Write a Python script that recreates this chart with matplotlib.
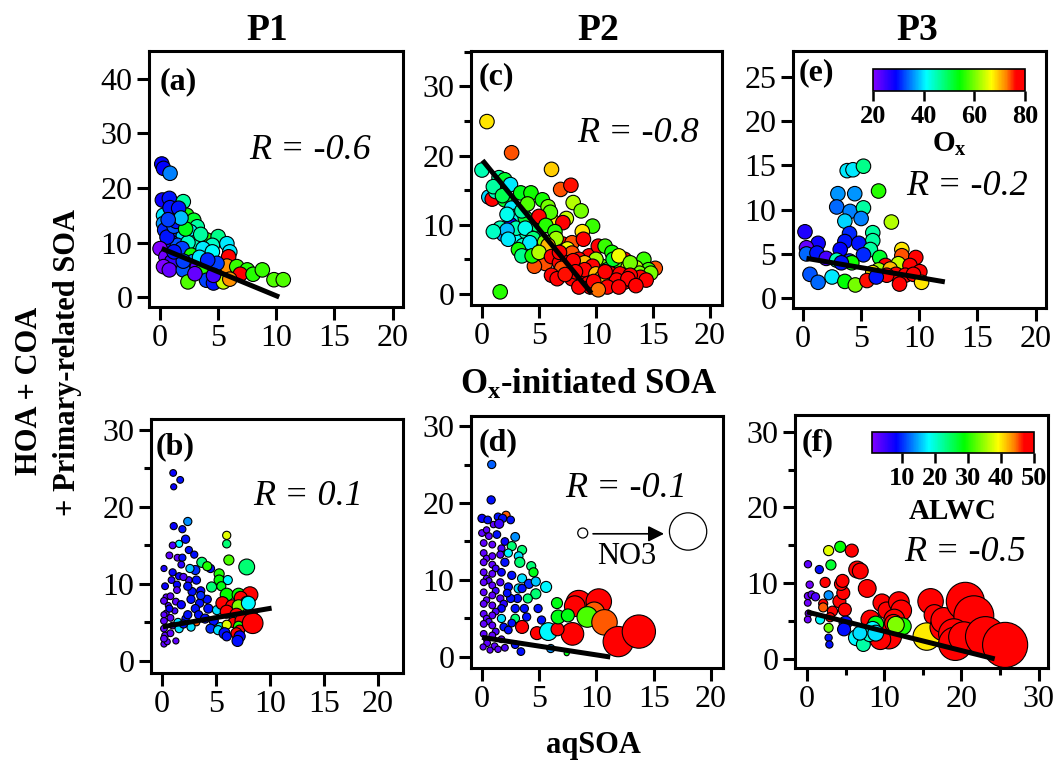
import matplotlib
matplotlib.use("Agg")
import matplotlib.pyplot as plt
from matplotlib.colors import LinearSegmentedColormap, Normalize
from matplotlib.cm import ScalarMappable
from matplotlib.ticker import MultipleLocator

plt.rcParams['font.family'] = 'Liberation Serif'
plt.rcParams['mathtext.fontset'] = 'custom'
plt.rcParams['mathtext.rm'] = 'Liberation Serif'
plt.rcParams['mathtext.bf'] = 'Liberation Serif:bold'
plt.rcParams['mathtext.it'] = 'Liberation Serif:italic'

# ---------------- data ----------------
# P1, Ox-initiated SOA vs primary: (x, y, Ox)
a_pts = [
    (0.15, 24.4, 29), (0.3, 23.6, 29), (0.86, 22.7, 35), (0.2, 17.8, 28), (0.8, 18.1, 30),
    (2.0, 17.5, 46), (0.3, 15.0, 40), (1.3, 15.6, 31), (2.3, 15.0, 55), (0.3, 13.5, 36),
    (0.4, 12.3, 31), (1.6, 12.7, 54), (2.9, 14.1, 52), (3.2, 12.9, 46), (1.3, 10.5, 31),
    (2.0, 11.2, 39), (2.6, 12.0, 41), (4.0, 10.5, 56), (5.0, 11.1, 47), (5.75, 9.8, 40),
    (1.0, 10.0, 30), (1.5, 9.5, 33), (2.5, 9.0, 37), (3.0, 10.0, 45), (0.6, 11.0, 30),
    (1.2, 13.0, 33), (2.4, 10.0, 44), (4.5, 9.5, 44), (1.4, 13.9, 30), (0.86, 16.4, 30),
    (1.6, 16.3, 30), (2.2, 12.5, 53), (3.5, 11.5, 46), (1.8, 14.5, 38), (0.7, 14.2, 32),
    (0.0, 8.9, 20), (0.5, 7.4, 21), (1.9, 8.9, 32), (2.7, 7.7, 55), (3.7, 8.9, 40),
    (4.5, 8.3, 41), (6.0, 8.3, 40), (3.5, 6.0, 34), (4.2, 5.5, 31), (5.2, 4.5, 33),
    (2.8, 6.5, 36), (1.8, 6.0, 28), (1.0, 6.5, 25), (5.5, 6.0, 38), (6.3, 4.0, 55),
    (5.9, 7.4, 80), (5.75, 5.7, 72), (0.3, 5.6, 20), (0.8, 5.0, 22), (2.0, 5.0, 33),
    (3.2, 5.5, 23), (3.7, 5.0, 56), (4.9, 6.2, 32), (6.6, 5.6, 57), (7.5, 5.0, 56),
    (6.9, 4.2, 80), (8.0, 4.2, 56), (8.8, 5.0, 57), (9.8, 3.2, 58), (10.6, 3.2, 58),
    (2.4, 2.8, 58), (4.0, 3.1, 32), (4.6, 2.6, 30), (5.45, 2.8, 64), (6.0, 3.3, 72),
    (3.0, 4.3, 22), (4.6, 4.0, 24), (2.0, 6.6, 32), (3.4, 7.3, 40), (4.1, 6.8, 31),
    (1.2, 8.3, 30),
]
# P2: (x, y, Ox)
c_pts = [
    (0.44, 24.9, 68), (2.6, 20.4, 74), (6.1, 18.0, 69), (6.9, 15.1, 74), (7.8, 15.7, 76),
    (0.0, 17.9, 45), (0.6, 14.0, 39), (0.9, 13.7, 80), (1.5, 16.8, 46), (2.0, 16.5, 52),
    (2.5, 15.8, 40), (3.4, 14.6, 53), (4.3, 14.6, 55), (5.3, 13.6, 55), (5.8, 12.6, 60),
    (2.0, 13.6, 52), (2.6, 12.4, 40), (2.9, 11.2, 42), (2.5, 10.0, 28), (1.6, 9.5, 45),
    (1.9, 8.6, 36), (3.0, 8.4, 41), (3.9, 8.9, 45), (5.0, 8.4, 41), (4.5, 6.9, 40),
    (2.2, 11.5, 42), (1.2, 14.8, 45), (3.0, 9.5, 45), (3.8, 11.0, 52), (4.8, 10.0, 48),
    (1.0, 15.5, 46), (1.8, 14.2, 50), (3.5, 12.0, 46), (4.0, 13.0, 58), (5.5, 11.0, 62),
    (6.2, 10.5, 66), (6.0, 11.8, 58), (3.8, 9.5, 42), (4.5, 8.0, 48), (2.2, 9.2, 38),
    (3.6, 7.0, 44), (1.0, 9.0, 44),
    (5.0, 11.2, 80), (7.4, 10.9, 64), (8.0, 13.2, 63), (8.7, 12.0, 60), (9.7, 9.8, 57),
    (8.8, 9.0, 68), (7.1, 10.3, 80), (5.6, 9.9, 56), (6.4, 9.0, 56), (6.1, 6.9, 74),
    (7.1, 7.2, 80), (7.9, 7.4, 74), (8.9, 7.9, 80), (5.55, 4.4, 74), (4.6, 4.0, 74),
    (6.5, 8.0, 62), (7.5, 6.5, 66), (5.5, 7.5, 60), (5.8, 7.0, 70),
    (2.3, 7.9, 40), (4.2, 7.4, 40), (3.2, 6.4, 55), (3.5, 5.5, 47), (4.4, 5.5, 55),
    (5.0, 6.0, 63),
    (6.1, 5.4, 80), (7.0, 5.5, 80), (7.9, 5.9, 74), (9.4, 5.5, 80), (10.2, 6.9, 80),
    (10.8, 6.9, 57), (11.4, 6.0, 55), (12.5, 5.0, 80), (14.2, 5.0, 57), (15.2, 3.7, 74),
    (14.6, 3.5, 57), (13.5, 3.8, 63), (12.1, 4.0, 57), (10.5, 4.0, 60), (11.0, 3.5, 48),
    (12.8, 3.8, 65), (8.5, 5.0, 78), (6.8, 4.5, 78), (13.8, 3.0, 60), (10.0, 5.0, 62),
    (11.5, 5.0, 52), (12.0, 5.5, 66), (13.0, 4.5, 60), (9.0, 4.5, 70), (14.8, 3.0, 60),
    (6.8, 6.0, 80), (7.5, 4.5, 80), (8.0, 4.8, 80),
    (7.0, 3.7, 74), (6.1, 2.7, 80), (7.9, 2.2, 80), (8.8, 2.7, 80), (9.7, 4.0, 80),
    (9.0, 3.5, 80), (8.2, 3.2, 80), (10.0, 2.9, 70), (10.8, 1.7, 80), (11.6, 1.7, 80),
    (12.5, 1.7, 80), (13.3, 1.7, 80), (13.9, 2.4, 80), (11.3, 2.9, 80), (12.1, 2.9, 80),
    (13.0, 2.7, 80), (6.6, 2.2, 80), (9.3, 1.5, 80), (9.5, 1.0, 77), (11.8, 2.0, 80),
    (14.4, 2.0, 80), (10.5, 2.3, 70), (10.8, 3.2, 80), (12.8, 2.2, 80), (9.8, 1.8, 80),
    (8.5, 1.0, 80), (7.3, 2.8, 76), (11.0, 1.0, 80), (12.0, 1.0, 80), (13.5, 1.2, 80),
    (10.2, 0.6, 73), (1.6, 0.3, 56),
]
# P3: (x, y, Ox)
e_pts = [
    (3.8, 14.4, 40), (4.3, 14.5, 40), (5.2, 14.9, 47), (6.5, 12.1, 56), (3.0, 11.8, 36),
    (4.45, 11.8, 36), (2.9, 10.3, 34), (4.05, 9.8, 35), (5.2, 10.2, 46), (5.0, 9.0, 35),
    (3.6, 8.7, 39), (7.6, 8.6, 63), (0.17, 7.5, 27), (4.0, 7.3, 31), (6.0, 7.4, 46),
    (6.0, 6.5, 46), (1.3, 6.2, 28), (0.3, 5.7, 22), (3.6, 6.4, 30), (4.8, 6.2, 30),
    (3.2, 5.5, 29), (5.8, 5.5, 46), (0.3, 5.0, 34), (1.2, 5.1, 30), (5.2, 4.9, 31),
    (6.6, 4.6, 52), (2.0, 4.5, 24), (2.9, 4.3, 45), (4.0, 4.2, 31), (4.2, 4.0, 55),
    (3.3, 4.0, 30), (8.5, 5.5, 68), (8.5, 4.8, 74), (9.7, 4.6, 80), (7.1, 3.7, 80),
    (8.2, 3.9, 64), (9.2, 3.7, 80), (6.5, 3.2, 62), (7.5, 3.3, 70), (10.05, 3.0, 80),
    (8.0, 2.7, 80), (8.8, 2.6, 80), (9.5, 2.7, 80), (6.0, 2.9, 68), (7.2, 2.6, 80),
    (8.3, 1.6, 80), (10.2, 1.8, 68), (0.6, 2.7, 33), (1.3, 1.8, 34), (2.5, 2.4, 40),
    (3.6, 1.9, 54), (4.5, 1.5, 60), (5.5, 2.0, 76), (6.3, 2.4, 30),
]
# P1, aqSOA vs primary: (x, y, ALWC, NO3)
b_pts = [
    (1.05, 24.4, 8, 1.5), (1.7, 23.5, 9, 1.5), (1.1, 22.6, 8, 1.0), (1.1, 17.5, 8, 1.8),
    (1.9, 17.1, 9, 1.8), (2.4, 18.1, 14, 2.6), (2.2, 15.8, 9, 2.6), (1.6, 15.2, 18, 1.8),
    (1.0, 15.0, 4, 1.5), (2.5, 14.4, 9, 1.8), (0.7, 13.7, 3, 1.5), (1.45, 13.4, 3, 1.5),
    (1.9, 13.4, 9, 1.8), (0.2, 12.0, 7, 1.0), (3.0, 13.8, 9, 1.8), (1.8, 12.5, 6, 1.5),
    (0.9, 10.5, 6, 1.5), (1.6, 11.0, 8, 1.8), (2.5, 10.5, 5, 1.5), (4.5, 12.0, 9, 2.6),
    (0.2, 2.2, 3, 1.0), (0.5, 2.5, 3, 1.0), (1.3, 2.6, 3, 1.0), (0.4, 6.2, 3, 1.0),
    (0.6, 7.2, 4, 1.0), (1.2, 6.5, 5, 1.0), (0.4, 8.3, 3, 1.0), (0.2, 6.0, 3, 1.0),
    (2.8, 9.0, 9, 2.6), (3.5, 7.5, 9, 2.6), (4.2, 8.0, 9, 2.6), (2.2, 5.5, 9, 2.0),
    (6.0, 16.3, 38, 2.6), (6.0, 15.2, 24, 2.6), (6.2, 13.1, 32, 4.1), (3.7, 12.8, 24, 4.1),
    (4.2, 12.3, 30, 3.3), (3.1, 11.8, 10, 3.3), (2.6, 12.0, 16, 2.6), (5.3, 11.3, 30, 4.1),
    (1.0, 11.5, 8, 1.8), (2.0, 10.9, 4, 1.8), (3.2, 10.5, 9, 2.6), (5.3, 10.5, 29, 4.1),
    (6.1, 10.5, 18, 3.3), (4.6, 9.6, 24, 4.1), (3.6, 9.1, 8, 2.6), (5.5, 9.7, 28, 3.3),
    (0.3, 9.7, 8, 1.5), (1.4, 9.9, 8, 1.8), (2.4, 9.7, 9, 2.6), (3.6, 8.5, 10, 2.6),
    (2.7, 8.0, 9, 2.6), (1.3, 7.7, 3, 1.5), (0.2, 7.8, 3, 1.5), (0.7, 6.8, 8, 1.8),
    (1.8, 7.3, 8, 2.6), (3.1, 6.8, 9, 2.6), (4.3, 6.8, 9, 3.3), (3.4, 6.0, 9, 2.6),
    (5.1, 6.6, 17, 3.3), (2.4, 6.0, 9, 2.6), (0.8, 5.6, 3, 1.5), (0.2, 5.2, 3, 1.5),
    (1.5, 5.0, 17, 2.6), (3.2, 5.0, 45, 1.5), (4.0, 5.5, 9, 3.3), (4.8, 5.2, 9, 3.3),
    (4.5, 4.2, 10, 3.3), (5.4, 4.4, 17, 3.3), (5.2, 4.0, 17, 3.3), (2.7, 4.4, 17, 2.6),
    (0.2, 4.2, 3, 1.5), (1.0, 4.6, 3, 1.5), (0.3, 3.3, 3, 1.5), (0.8, 3.6, 3, 1.5),
    (0.2, 2.9, 3, 1.5), (1.6, 4.2, 17, 2.6), (2.0, 4.8, 9, 2.6), (0.8, 8.4, 3, 1.5),
    (1.4, 9.2, 3, 1.5), (7.85, 12.2, 24, 8.5), (6.0, 8.6, 29, 6.3), (7.1, 8.6, 29, 6.3),
    (8.15, 8.6, 50, 8.5), (7.3, 8.2, 50, 6.3), (5.6, 7.5, 50, 6.3), (6.5, 7.1, 50, 6.3),
    (7.9, 7.5, 18, 7.0), (7.1, 7.1, 34, 6.3), (6.0, 6.4, 50, 6.3), (6.9, 6.0, 50, 6.3),
    (8.2, 5.6, 50, 8.5), (8.1, 5.4, 18, 7.0), (6.7, 5.4, 17, 4.1), (6.6, 5.0, 50, 4.1),
    (7.5, 5.2, 50, 8.5), (7.1, 4.5, 30, 4.1), (6.0, 4.7, 38, 3.3), (7.2, 4.0, 50, 4.1),
    (8.4, 4.9, 50, 12.2), (8.0, 7.5, 18, 7.0), (6.9, 3.6, 50, 4.8), (5.8, 3.6, 9, 4.8),
    (7.2, 3.2, 8, 4.8), (7.0, 2.6, 9, 4.8), (6.0, 3.2, 9, 3.3),
]
# P2: (x, y, ALWC, NO3)
d_pts = [
    (0.85, 25.0, 12, 2.6), (0.8, 20.4, 9, 2.6), (0.0, 18.0, 8, 2.6), (0.5, 17.8, 9, 2.2),
    (1.4, 18.2, 9, 2.2), (2.1, 18.4, 45, 2.6), (1.8, 18.0, 9, 2.6), (2.5, 17.8, 9, 2.2),
    (1.0, 17.2, 3, 1.2), (1.5, 17.3, 5, 3.3), (0.0, 16.1, 3, 1.5), (0.4, 16.5, 3, 1.2),
    (0.6, 15.7, 3, 1.5), (1.3, 15.9, 9, 2.2), (2.9, 15.6, 14, 3.0), (0.15, 14.8, 3, 1.5),
    (0.9, 14.6, 3, 1.5), (1.7, 14.1, 4, 1.8), (2.0, 15.0, 8, 2.2), (2.6, 14.4, 24, 3.3),
    (3.5, 13.9, 24, 3.3), (0.15, 13.5, 3, 1.5), (0.4, 12.8, 3, 1.2), (0.9, 13.1, 3, 1.5),
    (1.6, 13.3, 4, 1.8), (2.3, 13.5, 18, 2.6), (3.2, 13.1, 17, 3.0), (0.15, 12.3, 3, 1.5),
    (0.9, 12.0, 3, 1.5), (1.2, 11.5, 5, 1.5), (2.0, 12.3, 9, 2.6), (3.3, 12.3, 24, 4.1),
    (4.3, 11.8, 24, 3.3), (4.5, 11.0, 28, 3.3), (0.15, 11.0, 3, 1.5), (0.9, 10.8, 3, 1.5),
    (1.7, 11.0, 8, 2.2), (2.6, 10.6, 9, 2.6), (3.5, 10.2, 17, 3.3), (4.1, 9.5, 10, 3.3),
    (4.7, 9.8, 16, 3.3), (0.4, 10.2, 3, 1.2), (0.6, 9.9, 4, 1.2), (0.15, 9.7, 3, 1.5),
    (0.9, 9.3, 3, 1.5), (1.6, 9.7, 4, 1.8), (2.3, 9.1, 9, 2.6), (3.2, 8.9, 17, 3.3),
    (3.5, 8.9, 9, 2.6), (5.6, 9.1, 18, 4.8), (4.7, 8.2, 24, 4.1), (4.0, 7.6, 24, 3.3),
    (3.1, 7.6, 9, 2.6), (1.2, 8.6, 5, 1.5), (0.15, 8.4, 3, 1.5), (0.9, 8.0, 3, 1.5),
    (1.6, 7.6, 4, 1.8), (2.5, 7.6, 9, 2.6), (2.2, 8.3, 9, 2.2), (0.4, 7.4, 3, 1.2),
    (0.15, 6.9, 3, 1.5), (0.9, 6.7, 3, 1.5), (1.9, 6.9, 6, 2.0), (1.7, 6.3, 8, 2.2),
    (2.9, 6.3, 9, 2.6), (3.7, 6.3, 9, 2.6), (4.9, 6.3, 9, 2.6), (1.2, 5.9, 4, 1.5),
    (0.15, 5.6, 3, 1.5), (0.9, 5.4, 3, 1.5), (0.4, 5.0, 3, 1.2), (1.7, 5.0, 17, 2.6),
    (2.9, 5.0, 24, 3.0), (3.9, 5.2, 9, 2.6), (5.2, 4.8, 9, 2.6), (0.6, 4.6, 4, 1.2),
    (0.15, 4.3, 3, 1.5), (0.9, 4.1, 3, 1.5), (1.9, 3.9, 9, 2.2), (2.6, 4.4, 9, 2.2),
    (2.3, 3.5, 9, 2.2), (1.2, 3.3, 4, 1.5), (0.15, 3.0, 3, 1.5), (0.9, 2.8, 3, 1.5),
    (0.4, 2.3, 3, 1.2), (1.7, 2.3, 3, 1.5), (0.45, 1.8, 3, 1.5), (1.1, 1.4, 3, 1.5),
    (0.1, 1.3, 3, 1.0), (1.4, 1.0, 3, 1.2), (0.7, 0.9, 3, 1.0), (2.0, 1.2, 4, 1.5),
    (2.9, 1.6, 9, 2.2), (3.4, 0.7, 9, 2.2), (6.0, 1.1, 14, 2.6), (7.4, 0.5, 28, 0.3),
    (6.55, 7.0, 28, 4.8), (3.5, 3.9, 50, 6.3), (4.8, 3.1, 50, 6.3), (5.8, 3.3, 18, 10.0),
    (8.45, 7.0, 50, 15.9), (10.2, 7.2, 50, 15.9), (8.1, 6.6, 50, 12.2), (7.9, 3.0, 50, 13.7),
    (6.6, 3.6, 50, 6.3), (6.65, 5.2, 28, 7.0), (7.5, 5.4, 28, 6.3), (9.8, 5.8, 45, 12.2),
    (9.2, 5.2, 32, 12.2), (10.7, 4.5, 45, 15.9), (11.9, 2.0, 50, 19.6), (13.7, 3.3, 50, 21.9),
]
# P3: (x, y, ALWC, NO3)
f_pts = [
    (2.8, 14.3, 38, 4.1), (4.3, 14.8, 29, 4.8), (5.8, 14.3, 50, 6.3), (1.6, 11.8, 9, 2.6),
    (3.1, 12.4, 27, 4.1), (2.35, 10.1, 50, 4.1), (2.8, 8.4, 14, 3.3), (2.1, 7.3, 50, 3.3),
    (2.1, 6.8, 45, 3.3), (1.7, 5.2, 18, 3.3), (2.8, 4.1, 33, 3.3), (2.8, 2.8, 9, 1.9),
    (2.9, 1.9, 9, 1.9), (3.3, 6.3, 50, 4.1), (4.2, 7.6, 50, 6.3), (4.7, 8.7, 50, 6.3),
    (4.4, 9.9, 50, 6.3), (4.6, 10.3, 50, 6.3), (6.5, 11.8, 50, 9.3), (6.9, 11.6, 50, 8.5),
    (4.9, 6.5, 50, 6.3), (3.0, 5.5, 50, 3.3), (5.0, 4.8, 9, 6.3), (7.8, 9.3, 50, 10.0),
    (9.7, 7.4, 50, 10.0), (8.2, 5.2, 50, 10.7), (10.3, 6.4, 50, 9.3), (11.9, 7.5, 50, 12.2),
    (12.2, 6.4, 50, 12.2), (11.3, 5.2, 50, 12.2), (16.0, 7.6, 50, 15.9), (16.5, 5.8, 50, 12.2),
    (10.6, 3.0, 50, 15.9), (9.5, 2.6, 50, 12.2), (11.2, 4.7, 50, 10.0), (12.4, 4.3, 30, 9.3),
    (11.5, 4.5, 34, 9.3), (8.9, 4.6, 28, 8.5), (8.5, 3.9, 18, 8.5), (6.4, 2.8, 18, 8.5),
    (7.3, 1.9, 22, 7.0), (8.1, 3.2, 20, 7.0), (8.9, 3.4, 17, 8.5), (6.85, 3.4, 17, 7.0),
    (4.8, 3.9, 9, 6.3), (15.5, 2.95, 40, 17.4), (17.7, 4.2, 50, 17.4), (17.7, 5.1, 50, 15.9),
    (20.5, 7.6, 50, 25.6), (21.6, 5.7, 50, 27.0), (19.0, 3.3, 50, 19.6), (19.2, 2.0, 50, 22.0),
    (20.3, 2.9, 50, 19.6), (23.1, 2.95, 50, 27.0), (25.65, 1.85, 50, 31.0),
    (0.13, 12.5, 3, 1.9), (0.35, 9.8, 2, 1.9), (0.13, 8.3, 2, 1.9), (0.6, 8.5, 3, 1.9),
    (1.1, 8.2, 4, 2.6), (0.1, 7.4, 2, 1.5), (0.2, 6.0, 2, 1.5), (0.1, 5.2, 2, 1.5),
]

# linear fits: (intercept, slope, x_start, x_end)
fit_a = (9.05, -0.88, 0.15, 10.25)
fit_c = (19.4, -2.01, 0.05, 9.6)
fit_e = (4.57, -0.223, 0.3, 12.2)
fit_b = (4.42, 0.24, 0.1, 10.15)
fit_d = (2.55, -0.228, 0.0, 11.2)
fit_f = (6.2, -0.255, 0.0, 24.3)

r_labels = {'a': 'R = -0.6', 'c': 'R = -0.8', 'e': 'R = -0.2',
            'b': 'R = 0.1', 'd': 'R = -0.1', 'f': 'R = -0.5'}
column_titles = ['P1', 'P2', 'P3']
no3_legend = [4, 25]
ox_ticks = [20, 40, 60, 80]
alwc_ticks = [10, 20, 30, 40, 50]

# ---------------- styling ----------------
W, H = 1059, 766
cmap = LinearSegmentedColormap.from_list(
    'igor_rainbow',
    [(0.0, (0.50, 0.0, 1.0)), (0.15, (0.0, 0.0, 1.0)), (0.35, (0.0, 1.0, 1.0)),
     (0.57, (0.0, 1.0, 0.0)), (0.78, (1.0, 1.0, 0.0)), (0.88, (1.0, 0.5, 0.0)),
     (0.94, (1.0, 0.0, 0.0)), (1.0, (1.0, 0.0, 0.0))])
ox_norm = Normalize(20, 80)
alwc_norm = Normalize(1, 50)

TICK_FS = 23
SPINE_W = 2.2

fig = plt.figure(figsize=(W / 100, H / 100), dpi=100)


def px_axes(l, t, r, b):
    return fig.add_axes([l / W, 1 - b / H, (r - l) / W, (b - t) / H])


def style(ax, xlim, ylim, xmaj, xmin, ymaj, ymin):
    ax.set_xlim(*xlim)
    ax.set_ylim(*ylim)
    ax.xaxis.set_major_locator(MultipleLocator(xmaj))
    ax.yaxis.set_major_locator(MultipleLocator(ymaj))
    if xmin:
        ax.xaxis.set_minor_locator(MultipleLocator(xmin))
    if ymin:
        ax.yaxis.set_minor_locator(MultipleLocator(ymin))
    for s in ax.spines.values():
        s.set_linewidth(SPINE_W)
    ax.tick_params(which='major', direction='out', length=9, width=SPINE_W,
                   labelsize=TICK_FS, pad=3)
    ax.tick_params(which='minor', direction='out', length=5, width=SPINE_W)


def marker_area(no3):
    d_px = 4.8 + 1.3 * no3
    return (d_px * 0.72) ** 2


def draw_fit(ax, fit):
    b0, m, x0, x1 = fit
    ax.plot([x0, x1], [b0 + m * x0, b0 + m * x1], color='k', lw=3.6,
            solid_capstyle='butt', zorder=5)


def annotate(ax, letter, lab_pos, r_pos):
    ax.text(lab_pos[0], lab_pos[1], f'({letter})', transform=ax.transAxes,
            ha='left', va='center', fontsize=23, fontweight='bold')
    ax.text(r_pos[0], r_pos[1], r_labels[letter], transform=ax.transAxes,
            ha='center', va='center', fontsize=26, fontstyle='italic')


def top_panel(ax, pts):
    xs = [p[0] for p in pts]
    ys = [p[1] for p in pts]
    cs = [p[2] for p in pts]
    ax.scatter(xs, ys, c=cs, cmap=cmap, norm=ox_norm, s=(14.5 * 0.72) ** 2,
               edgecolors='k', linewidths=0.8, zorder=3)


def bottom_panel(ax, pts):
    xs = [p[0] for p in pts]
    ys = [p[1] for p in pts]
    cs = [p[2] for p in pts]
    ss = [marker_area(p[3]) for p in pts]
    ax.scatter(xs, ys, c=cs, cmap=cmap, norm=alwc_norm, s=ss,
               edgecolors='k', linewidths=0.8, zorder=3)


# ---- top row: Ox-initiated SOA ----
ax_a = px_axes(149, 51, 403, 307)
style(ax_a, (-0.95, 20.9), (-1.8, 45.1), 5, None, 10, None)
top_panel(ax_a, a_pts)
draw_fit(ax_a, fit_a)
annotate(ax_a, 'a', (0.04, 0.88), (0.634, 0.613))

ax_c = px_axes(471, 51, 722, 305)
style(ax_c, (-0.96, 21.05), (-1.6, 35.1), 5, None, 10, 5)
top_panel(ax_c, c_pts)
draw_fit(ax_c, fit_c)
annotate(ax_c, 'c', (0.03, 0.898), (0.665, 0.677))

ax_e = px_axes(793, 51, 1046, 308)
style(ax_e, (-0.86, 20.9), (-1.1, 27.9), 5, None, 5, None)
top_panel(ax_e, e_pts)
draw_fit(ax_e, fit_e)
annotate(ax_e, 'e', (0.024, 0.914), (0.688, 0.471))

# ---- bottom row: aqSOA ----
ax_b = px_axes(151, 419, 403, 673)
style(ax_b, (-1.0, 22.3), (-1.56, 31.4), 5, None, 10, 5)
bottom_panel(ax_b, b_pts)
draw_fit(ax_b, fit_b)
annotate(ax_b, 'b', (0.02, 0.89), (0.623, 0.693))

ax_d = px_axes(471, 416, 723, 668)
style(ax_d, (-0.96, 21.05), (-1.43, 31.3), 5, None, 10, 5)
bottom_panel(ax_d, d_pts)
draw_fit(ax_d, fit_d)
annotate(ax_d, 'd', (0.03, 0.893), (0.615, 0.714))

# NO3 size key
ax_d.scatter([8.8, 18.0], [16.1, 16.3], s=[marker_area(v) for v in no3_legend],
             facecolors='white', edgecolors='k', linewidths=0.9, zorder=4)
ax_d.annotate('', xy=(15.9, 16.0), xytext=(9.7, 16.0),
              arrowprops=dict(arrowstyle='-|>', color='k', lw=1.2,
                              mutation_scale=24, shrinkA=0, shrinkB=0))
ax_d.text(12.6, 13.1, 'NO3', ha='center', va='center', fontsize=22)

ax_f = px_axes(795, 415, 1048, 668)
style(ax_f, (-1.55, 31.2), (-1.2, 32.2), 10, 5, 10, 5)
bottom_panel(ax_f, f_pts)
draw_fit(ax_f, fit_f)
annotate(ax_f, 'f', (0.028, 0.889), (0.672, 0.455))


# ---- colour bars ----
def colorbar(l, t, r, b, norm, ticks, label, labelpad):
    cax = px_axes(l, t, r, b)
    cb = fig.colorbar(ScalarMappable(norm=norm, cmap=cmap), cax=cax,
                      orientation='horizontal')
    cb.set_ticks(ticks)
    cb.outline.set_linewidth(1.2)
    cax.tick_params(direction='out', length=7, width=1.8, labelsize=19, pad=3)
    for t_ in cax.get_xticklabels():
        t_.set_fontweight('bold')
    cb.set_label(label, fontsize=21, fontweight='bold', labelpad=labelpad)
    return cb


colorbar(873, 69, 1025, 91, ox_norm, ox_ticks, r'$\mathbf{O_x}$', 2)
colorbar(872, 432, 1034, 453, alwc_norm, alwc_ticks, 'ALWC', 6)

# ---- titles and axis labels ----
for title, xc in zip(column_titles, [267, 598, 917]):
    fig.text(xc / W, 1 - 30 / H, title, ha='center', va='center',
             fontsize=27, fontweight='bold')

fig.text(589 / W, 1 - 385 / H, r'$\mathbf{O_x}$-initiated SOA', ha='center',
         va='center', fontsize=25, fontweight='bold')
fig.text(593 / W, 1 - 745 / H, 'aqSOA', ha='center', va='center',
         fontsize=22, fontweight='bold')
fig.text(30 / W, 1 - 391 / H, 'HOA + COA', rotation=90,
         ha='center', va='center', fontsize=22, fontweight='bold')
fig.text(68 / W, 1 - 362 / H, '+ Primary-related SOA', rotation=90,
         ha='center', va='center', fontsize=22, fontweight='bold')

fig.savefig('out.png', dpi=100)
